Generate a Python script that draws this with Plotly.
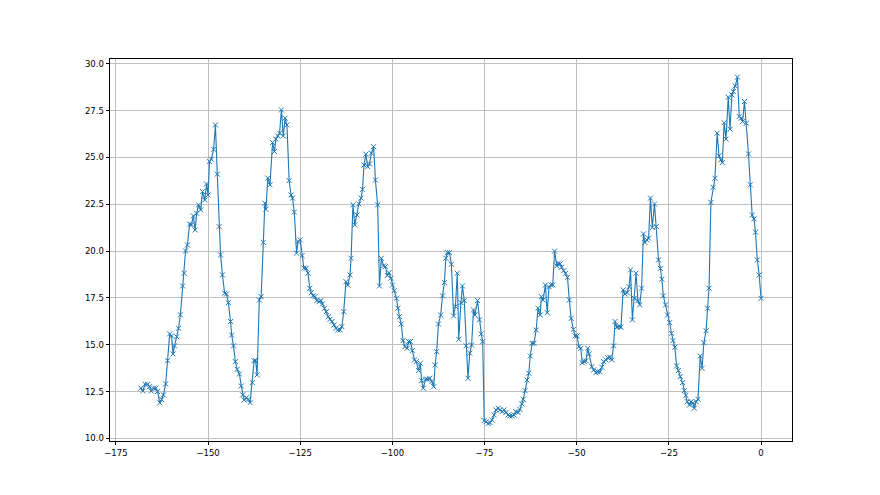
import plotly.graph_objects as go

# Hours relative to now
hours = [
    -168.2, -167.7, -167.1, -166.4, -165.9, -165.4, -164.8, -164.2, -163.7, -163.1,
    -162.6, -162.1, -161.5, -161.0, -160.4, -159.9, -159.5, -159.1, -158.5, -158.0,
    -157.5, -156.9, -156.5, -156.1, -155.6, -155.0, -154.5, -154.0, -153.5, -153.1,
    -152.6, -152.0, -151.5, -150.9, -150.4, -150.0, -149.6, -149.1, -148.5, -148.0,
    -147.5, -147.0, -146.6,
    -146.1, -145.5, -145.0, -144.5, -143.9, -143.6, -143.1, -142.6, -142.1, -141.5,
    -141.0, -140.6, -140.2, -139.6, -139.1, -138.6, -138.0, -137.5, -137.1, -136.7,
    -136.1, -135.6, -135.0, -134.6, -134.3, -133.8, -133.2, -132.5, -132.0, -131.6,
    -131.1, -130.6, -130.1, -129.6, -129.1, -128.6, -128.0, -127.5, -127.1, -126.6,
    -126.0, -125.6, -125.0, -124.5, -124.0,
    -123.4, -122.9, -122.4, -122.0, -121.5, -121.0, -120.5, -119.9, -119.4, -119.0,
    -118.4, -117.9, -117.4, -116.9, -116.4, -115.8, -115.3, -114.8, -114.2, -113.7,
    -113.2, -112.6, -112.1, -111.5, -111.2, -110.7, -110.2, -109.6, -109.1, -108.5,
    -108.1, -107.7, -107.2, -106.7, -106.2, -105.7, -105.1, -104.6, -104.0, -103.5,
    -103.0, -102.4, -101.9,
    -101.4, -100.9, -100.4, -100.0, -99.5, -98.9, -98.5, -98.1, -97.6, -97.1,
    -96.6, -96.0, -95.6, -95.1, -94.6, -94.0, -93.5, -92.9, -92.4, -92.1,
    -91.6, -91.0, -90.5, -89.9, -89.3, -88.8, -88.4, -88.0, -87.5, -86.9,
    -86.4, -85.9, -85.5, -85.1, -84.5, -84.0, -83.4, -82.9, -82.4, -82.0,
    -81.4, -81.0, -80.5, -80.0, -79.5, -79.0, -78.5, -78.0,
    -77.6, -76.9, -76.4, -75.9, -75.5, -75.1, -74.6, -74.0, -73.5, -73.0,
    -72.4, -71.9, -71.3, -70.8, -70.2, -69.7, -69.2, -68.6, -68.1, -67.5,
    -67.0, -66.5, -65.9, -65.4, -64.9, -64.5, -64.0, -63.5, -63.0, -62.6,
    -62.1, -61.6, -61.0, -60.5, -59.9, -59.6, -59.1, -58.5, -58.0, -57.5,
    -56.9, -56.5, -56.0,
    -55.4, -55.0, -54.5, -54.1, -53.5, -53.0, -52.5, -52.0, -51.5, -50.9,
    -50.4, -49.9, -49.4, -48.9, -48.5, -47.9, -47.5, -47.0, -46.6, -45.9,
    -45.4, -44.8, -44.3, -43.7, -43.2, -42.7, -42.1, -41.6, -41.0, -40.5,
    -40.0, -39.6, -39.1, -38.5, -38.0, -37.4, -36.9, -36.3, -35.8, -35.4,
    -34.9, -34.4, -33.9, -33.4, -32.9, -32.4,
    -31.9, -31.5, -31.0, -30.5, -30.0, -29.5, -28.9, -28.4, -27.8, -27.3,
    -26.9, -26.5, -25.9, -25.4, -24.8, -24.3, -23.9, -23.4, -22.9, -22.4,
    -21.9, -21.3, -20.8, -20.4, -20.0, -19.4, -19.0, -18.5, -18.1, -17.6,
    -17.1, -16.5, -16.0, -15.5, -14.9, -14.5, -14.1,
    -13.6, -13.0, -12.5, -11.9, -11.4, -10.9, -10.5, -10.0, -9.5, -8.9,
    -8.4, -7.9, -7.5, -7.0, -6.4, -5.9, -5.4, -5.0, -4.5, -4.0,
    -3.4, -2.9, -2.4, -1.9, -1.5, -1.0, -0.5, 0.0,
]

temperature = [
    12.68, 12.53, 12.89, 12.89, 12.76, 12.53, 12.68, 12.68, 12.50, 11.90,
    12.08, 12.32, 12.91, 14.15, 15.58, 15.47, 14.51, 14.94, 15.43, 15.88,
    16.60, 18.14, 18.82, 20.01, 20.33, 21.45, 21.40, 21.88, 21.13, 22.02,
    22.47, 22.20, 23.18, 22.73, 23.59, 23.00, 24.78, 24.91, 25.44, 26.74,
    24.11, 21.31, 19.80,
    18.73, 17.75, 17.71, 17.25, 16.24, 15.52, 14.94, 14.10, 13.69, 13.44,
    12.80, 12.32, 12.05, 12.17, 12.09, 11.91, 12.98, 14.15, 14.15, 13.39,
    17.39, 17.57, 20.47, 22.56, 22.24, 23.90, 23.54, 25.80, 25.32, 25.98,
    26.15, 26.30, 27.54, 26.15, 27.10, 26.74, 23.77, 23.00, 22.83, 22.08,
    19.89, 20.51, 20.60, 19.76, 19.10,
    19.08, 18.82, 18.02, 17.78, 17.62, 17.57, 17.36, 17.30, 17.36, 17.18,
    16.95, 16.77, 16.50, 16.36, 16.24, 16.06, 15.88, 15.79, 15.79, 15.97,
    16.77, 18.37, 18.19, 18.73, 19.62, 22.47, 21.40, 21.93, 22.52, 22.83,
    23.30, 24.60, 25.18, 24.51, 24.66, 25.23, 25.58, 23.80, 22.47, 18.14,
    19.62, 19.21, 19.17,
    18.70, 18.85, 18.55, 18.19, 17.89, 17.48, 16.95, 16.50, 16.11, 15.22,
    14.90, 14.81, 15.17, 15.17, 14.69, 14.19, 14.10, 13.62, 14.01, 13.08,
    12.68, 13.16, 13.16, 13.21, 13.03, 12.76, 13.92, 14.63, 16.11, 16.59,
    17.61, 18.32, 19.62, 19.92, 19.92, 19.30, 16.54, 17.04, 18.82, 15.29,
    17.25, 18.14, 17.36, 14.94, 13.21, 14.55, 14.99, 16.86,
    16.59, 17.36, 16.33, 15.58, 15.17, 10.95, 10.89, 10.80, 10.84, 10.98,
    11.25, 11.52, 11.61, 11.52, 11.43, 11.52, 11.38, 11.25, 11.20, 11.20,
    11.25, 11.43, 11.38, 11.55, 11.84, 12.09, 12.55, 13.12, 13.48, 14.40,
    15.08, 15.08, 15.79, 16.95, 16.59, 17.57, 17.39, 18.19, 16.71, 18.10,
    18.19, 18.20, 20.00,
    19.21, 19.35, 19.32, 19.14, 18.96, 18.82, 18.60, 17.39, 16.41, 15.82,
    15.47, 15.47, 14.90, 14.81, 14.04, 14.10, 14.15, 14.81, 14.51, 13.83,
    13.65, 13.51, 13.56, 13.56, 13.80, 14.10, 14.19, 14.31, 14.33, 14.19,
    14.94, 16.24, 15.94, 15.97, 15.94, 17.93, 17.71, 17.78, 18.10, 19.00,
    16.33, 17.48, 18.82, 17.36, 17.13, 18.02,
    20.92, 20.46, 20.60, 20.69, 22.83, 21.26, 22.51, 21.31, 19.53, 19.08,
    18.50, 17.61, 17.13, 16.59, 16.18, 15.61, 15.22, 14.87, 13.87, 13.62,
    13.30, 12.98, 12.55, 12.30, 11.96, 11.78, 11.96, 11.87, 11.61, 11.96,
    12.09, 14.40, 13.74, 15.11, 15.75, 16.95, 18.02,
    22.60, 23.41, 23.89, 26.30, 25.09, 24.87, 24.73, 26.86, 25.98, 28.22,
    26.51, 28.34, 28.52, 28.82, 29.29, 27.19, 27.10, 26.92, 27.99, 26.83,
    25.19, 23.54, 21.93, 21.72, 21.01, 19.53, 18.73, 17.48,
]

x_ticks = [-175, -150, -125, -100, -75, -50, -25, 0]
y_ticks = [10.0, 12.5, 15.0, 17.5, 20.0, 22.5, 25.0, 27.5, 30.0]

fig = go.Figure(
    go.Scatter(
        x=hours,
        y=temperature,
        mode="lines+markers",
        line=dict(color="#1f77b4", width=1.1),
        marker=dict(symbol="x-thin", size=5, color="#1f77b4",
                    line=dict(color="#1f77b4", width=1)),
        showlegend=False,
    )
)

axis_common = dict(
    showline=True, linecolor="black", linewidth=0.8, mirror=True,
    ticks="outside", ticklen=3.5, tickwidth=0.8, tickcolor="black",
    showgrid=True, gridcolor="#c0c0c0", gridwidth=0.8, zeroline=False,
    tickfont=dict(family="DejaVu Sans", size=8.5, color="black"),
)

fig.update_xaxes(range=[-176.6, 8.4], tickmode="array", tickvals=x_ticks,
                 **axis_common)
fig.update_yaxes(range=[9.86, 30.26], tickmode="array", tickvals=y_ticks,
                 ticktext=[f"{v:.1f}" for v in y_ticks], **axis_common)

fig.update_layout(
    width=880, height=495, autosize=False,
    margin=dict(l=102, r=96, t=51, b=62),
    paper_bgcolor="white", plot_bgcolor="white",
)

fig.write_html("out.html")
